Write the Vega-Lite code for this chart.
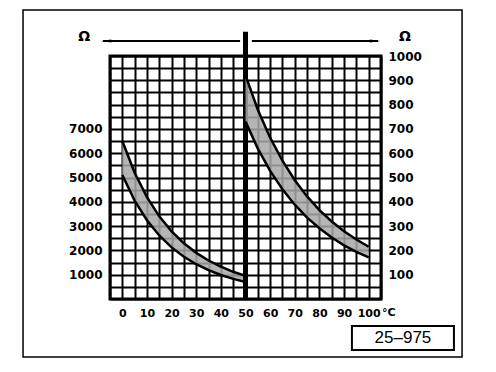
{
  "$schema": "https://vega.github.io/schema/vega-lite/v6.json",
  "width": 271,
  "height": 243,
  "autosize": "none",
  "padding": {"left": 110, "top": 56, "right": 115, "bottom": 73},
  "background": "white",
  "config": {
    "view": {"stroke": "black", "strokeWidth": 3},
    "font": "DejaVu Sans"
  },
  "datasets": {
    "left": [
      {"x": 0, "y": 6500, "y2": 5100},
      {"x": 5, "y": 5197, "y2": 4047},
      {"x": 10, "y": 4190, "y2": 3240},
      {"x": 15, "y": 3403, "y2": 2613},
      {"x": 20, "y": 2783, "y2": 2123},
      {"x": 25, "y": 2291, "y2": 1736},
      {"x": 30, "y": 1899, "y2": 1430},
      {"x": 35, "y": 1583, "y2": 1186},
      {"x": 40, "y": 1329, "y2": 988},
      {"x": 45, "y": 1120, "y2": 829},
      {"x": 50, "y": 950, "y2": 699}
    ],
    "right": [
      {"x": 50, "y": 920, "y2": 730},
      {"x": 55, "y": 779, "y2": 619},
      {"x": 60, "y": 664, "y2": 527},
      {"x": 65, "y": 569, "y2": 452},
      {"x": 70, "y": 489, "y2": 388},
      {"x": 75, "y": 422, "y2": 335},
      {"x": 80, "y": 366, "y2": 291},
      {"x": 85, "y": 319, "y2": 253},
      {"x": 90, "y": 279, "y2": 221},
      {"x": 95, "y": 245, "y2": 194},
      {"x": 100, "y": 215, "y2": 171}
    ]
  },
  "encoding": {
    "x": {
      "field": "x", "type": "quantitative",
      "scale": {"domain": [-5, 105], "nice": false, "zero": false},
      "axis": {
        "title": null,
        "values": [-5, 0, 5, 10, 15, 20, 25, 30, 35, 40, 45, 50, 55, 60, 65, 70, 75, 80, 85, 90, 95, 100, 105],
        "labelExpr": "(datum.value % 10 === 0 && datum.value >= 0 && datum.value <= 100) ? datum.label : ''",
        "labelOverlap": false, "labelFlush": false,
        "labelFont": "DejaVu Sans", "labelFontWeight": "bold", "labelFontSize": 11, "labelColor": "black",
        "labelPadding": 8,
        "ticks": false, "domain": false,
        "grid": true, "gridColor": "black", "gridWidth": 2, "gridOpacity": 1
      }
    }
  },
  "resolve": {"scale": {"y": "independent"}, "axis": {"y": "independent"}},
  "layer": [
    {
      "encoding": {
        "y": {
          "field": "y", "type": "quantitative",
          "scale": {"domain": [0, 10000], "nice": false, "zero": false},
          "axis": {
            "title": null,
            "orient": "left",
            "values": [0, 500, 1000, 1500, 2000, 2500, 3000, 3500, 4000, 4500, 5000, 5500, 6000, 6500, 7000, 7500, 8000, 8500, 9000, 9500, 10000],
            "format": "d",
            "labelExpr": "(datum.value % 1000 === 0 && datum.value >= 1000 && datum.value <= 7000) ? datum.label : ''",
            "labelOverlap": false, "labelFlush": false,
            "labelFont": "DejaVu Sans", "labelFontWeight": "bold", "labelFontSize": 12, "labelColor": "black",
            "labelPadding": 8,
            "ticks": false, "domain": false,
            "grid": true, "gridColor": "black", "gridWidth": 2, "gridOpacity": 1
          }
        }
      },
      "layer": [
        {
          "data": {"name": "left"},
          "mark": {"type": "area", "color": "#a8a8a8", "opacity": 0.85},
          "encoding": {"y2": {"field": "y2"}}
        },
        {
          "data": {"name": "left"},
          "transform": [{"fold": ["y", "y2"], "as": ["s", "y"]}],
          "mark": {"type": "line", "color": "black", "strokeWidth": 2.5},
          "encoding": {"detail": {"field": "s"}}
        },
        {
          "data": {"values": [{"x": 50, "y": 0, "y2": 11000}]},
          "mark": {"type": "rule", "color": "black", "strokeWidth": 5},
          "encoding": {"y2": {"field": "y2"}}
        },
        {
          "data": {"values": [{"x": -7.8, "x2": 47.8, "y": 10617}, {"x": 52.6, "x2": 103.8, "y": 10617}]},
          "mark": {"type": "rule", "color": "black", "strokeWidth": 2},
          "encoding": {"x2": {"field": "x2"}}
        },
        {
          "data": {"values": [{"x": -6.6, "y": 10617, "d": "left"}, {"x": 102.6, "y": 10617, "d": "right"}]},
          "mark": {"type": "point", "filled": true, "color": "black", "opacity": 1, "size": 110},
          "encoding": {
            "shape": {"field": "d", "type": "nominal", "legend": null,
              "scale": {"domain": ["left", "right"], "range": ["M -1 0 L 1 -0.3 L 1 0.3 Z", "M 1 0 L -1 -0.3 L -1 0.3 Z"]}}
          }
        },
        {
          "data": {"values": [{"x": -15.5, "y": 10780, "t": "Ω"}, {"x": 114.7, "y": 10780, "t": "Ω"}]},
          "mark": {"type": "text", "font": "DejaVu Sans", "fontWeight": "bold", "fontSize": 14, "color": "black"},
          "encoding": {"text": {"field": "t"}}
        },
        {
          "data": {"values": [{"x": -40.3, "x2": 137.9, "y": 11893, "y2": -2387}]},
          "mark": {"type": "rect", "fill": null, "fillOpacity": 0, "stroke": "black", "strokeWidth": 1.5},
          "encoding": {"x2": {"field": "x2"}, "y2": {"field": "y2"}}
        },
        {
          "data": {"values": [{"x": 93.2, "x2": 134.6, "y": -1111, "y2": -2099}]},
          "mark": {"type": "rect", "fill": null, "fillOpacity": 0, "stroke": "black", "strokeWidth": 2},
          "encoding": {"x2": {"field": "x2"}, "y2": {"field": "y2"}}
        },
        {
          "data": {"values": [{"x": 113.9, "y": -1605, "t": "25–975"}]},
          "mark": {"type": "text", "font": "Liberation Sans", "fontSize": 17, "color": "black", "baseline": "middle"},
          "encoding": {"text": {"field": "t"}}
        },
        {
          "data": {"values": [{"x": 105.4, "y": -590, "t": "°C"}]},
          "mark": {"type": "text", "font": "DejaVu Sans", "fontWeight": "bold", "fontSize": 11, "color": "black", "align": "left", "baseline": "middle"},
          "encoding": {"text": {"field": "t"}}
        }
      ]
    },
    {
      "encoding": {
        "y": {
          "field": "y", "type": "quantitative",
          "scale": {"domain": [0, 1000], "nice": false, "zero": false},
          "axis": {
            "title": null,
            "orient": "right",
            "values": [100, 200, 300, 400, 500, 600, 700, 800, 900, 1000],
            "format": "d",
            "labelOverlap": false, "labelFlush": false,
            "labelFont": "DejaVu Sans", "labelFontWeight": "bold", "labelFontSize": 12, "labelColor": "black",
            "labelPadding": 7,
            "ticks": false, "domain": false, "grid": false
          }
        }
      },
      "layer": [
        {
          "data": {"name": "right"},
          "mark": {"type": "area", "color": "#a8a8a8", "opacity": 0.85},
          "encoding": {"y2": {"field": "y2"}}
        },
        {
          "data": {"name": "right"},
          "transform": [{"fold": ["y", "y2"], "as": ["s", "y"]}],
          "mark": {"type": "line", "color": "black", "strokeWidth": 2.5},
          "encoding": {"detail": {"field": "s"}}
        }
      ]
    }
  ]
}
